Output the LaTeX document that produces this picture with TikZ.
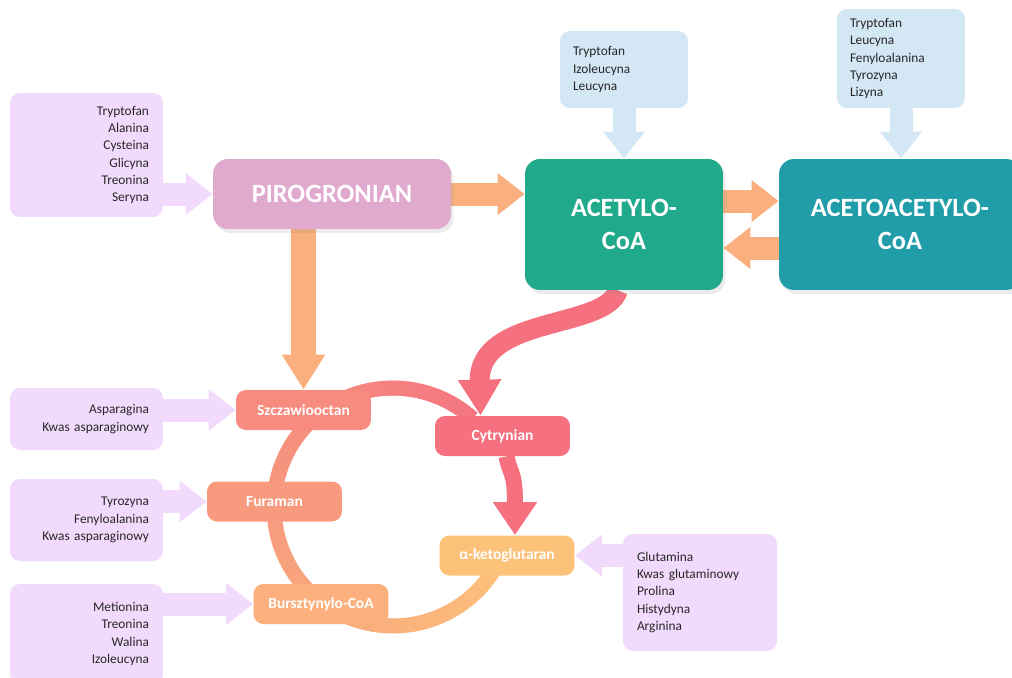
\documentclass[tikz,border=0pt]{standalone}
\usepackage{fontspec}
\setmainfont{Carlito}
\usetikzlibrary{positioning, calc, arrows.meta, shadows}

\definecolor{lilac}{HTML}{F2DAFC}
\definecolor{skyblue}{HTML}{D4E7F5}
\definecolor{pirocol}{HTML}{E0A9CE}
\definecolor{acetylcol}{HTML}{21A98B}
\definecolor{acetoaccol}{HTML}{209DA8}
\definecolor{peach}{HTML}{F9B07E}
\definecolor{szczcol}{HTML}{F78B7F}
\definecolor{furacol}{HTML}{F79A7E}
\definecolor{burszcol}{HTML}{FBB07D}
\definecolor{cytrcol}{HTML}{F67180}
\definecolor{ketocol}{HTML}{FCC27A}
\definecolor{listtext}{HTML}{262626}
\definecolor{ringa}{HTML}{F47580}
\definecolor{ringb}{HTML}{F79A7E}
\definecolor{ringc}{HTML}{FCC07A}

\pgfdeclarelayer{bg}
\pgfsetlayers{bg,main}

\begin{document}
\begin{tikzpicture}[x=0.02cm, y=-0.02cm,
  bigbox/.style={rounded corners=0.3cm, text=white, align=center, inner sep=0pt,
    font=\fontsize{15}{19}\selectfont\bfseries,
    drop shadow={shadow xshift=0.05cm, shadow yshift=-0.08cm, opacity=0.15}},
  cycbox/.style={rounded corners=0.2cm, text=white, inner sep=0pt,
    font=\fontsize{8.8}{10}\selectfont\bfseries, minimum width=2.7cm, minimum height=0.8cm},
  listbox/.style={fill=lilac, rounded corners=0.2cm, text=listtext, inner xsep=0.28cm, inner ysep=0pt,
    font=\fontsize{7.6}{9.8}\selectfont, text width=2.5cm, align=right},
  bluebox/.style={fill=skyblue, rounded corners=0.2cm, text=listtext, inner xsep=0.26cm, inner ysep=0pt,
    font=\fontsize{7.6}{9.8}\selectfont, text width=2.04cm, align=left},
  fatarrow/.style={line width=0.46cm, -{Triangle[length=0.54cm, width=0.8cm]}},
  ringseg/.style={line width=0.3cm}]
  \useasboundingbox (0,0) rectangle (1012,677);

  \node[bigbox, fill=pirocol, minimum width=4.76cm, minimum height=1.4cm] at (332,194) (piro) {PIROGRONIAN};
  \node[bigbox, fill=acetylcol, minimum width=3.96cm, minimum height=2.62cm] at (624,224.5) (acetyl) {ACETYLO-\\CoA};
  \node[bigbox, fill=acetoaccol, minimum width=4.84cm, minimum height=2.62cm] at (900,224.5) (acetoac) {ACETOACETYLO-\\CoA};

  \node[bluebox, minimum height=1.54cm] at (624,69.5) (acetylsrc) {Tryptofan\\Izoleucyna\\Leucyna};
  \node[bluebox, minimum height=1.98cm] at (901,58.5) (acetoacsrc) {Tryptofan\\Leucyna\\Fenyloalanina\\Tyrozyna\\Lizyna};

  \node[listbox, minimum height=2.48cm] at (86.5,155) (pirosrc) {Tryptofan\\Alanina\\Cysteina\\Glicyna\\Treonina\\Seryna};
  \node[listbox, minimum height=1.24cm] at (86.5,419) (szczsrc) {Asparagina\\Kwas asparaginowy};
  \node[listbox, minimum height=1.64cm] at (86.5,520) (furasrc) {Tyrozyna\\Fenyloalanina\\Kwas asparaginowy};
  \node[listbox, minimum height=2cm] at (86.5,634) (burszsrc) {Metionina\\Treonina\\Walina\\Izoleucyna};
  \node[listbox, align=left, text width=2.52cm, minimum height=2.34cm] at (700,592.5) (ketosrc) {Glutamina\\Kwas glutaminowy\\Prolina\\Histydyna\\Arginina};

  \node[cycbox, fill=szczcol] at (303.5,410) (szcz) {Szczawiooctan};
  \node[cycbox, fill=furacol] at (274.5,501.5) (fura) {Furaman};
  \node[cycbox, fill=burszcol] at (321,604) (bursz) {Bursztynylo-CoA};
  \node[cycbox, fill=cytrcol] at (502.5,436) (cytr) {Cytrynian};
  \node[cycbox, fill=ketocol] at (507,555.5) (keto) {α-ketoglutaran};
  \coordinate (ringc) at (393,507);

  \begin{pgfonlayer}{bg}
    \foreach \a in {48,50,...,178} {
      \pgfmathtruncatemacro\t{(180-\a)/132*100}
      \draw[ringseg, draw=ringa!\t!ringb] ([shift={(\a:2.38cm)}]ringc) arc[start angle=\a, end angle=\a+3, radius=2.38cm];
    }
    \foreach \a in {180,182,...,328} {
      \pgfmathtruncatemacro\t{(330-\a)/150*100}
      \draw[ringseg, draw=ringb!\t!ringc] ([shift={(\a:2.38cm)}]ringc) arc[start angle=\a, end angle=\a+2.5, radius=2.38cm];
    }

    \draw[fatarrow, peach] (piro.east) -- (piro.east -| acetyl.west);
    \draw[fatarrow, peach] ($(acetyl.east)+(0,-23.5)$) -- ($(acetoac.west)+(0,-23.5)$);
    \draw[fatarrow, peach] ($(acetoac.west)+(0,23.5)$) -- ($(acetyl.east)+(0,23.5)$);
    \draw[fatarrow, peach, line width=0.5cm, -{Triangle[length=0.7cm, width=0.82cm]}] (szcz.north |- piro.south) -- (szcz.north);

    \draw[fatarrow, skyblue] (acetylsrc.south) -- (acetyl.north);
    \draw[fatarrow, skyblue] (acetoacsrc.south) -- (acetoacsrc.south |- acetoac.north);

    \draw[fatarrow, lilac] (pirosrc.east |- piro.west) -- (piro.west);
    \draw[fatarrow, lilac] (szczsrc.east |- szcz.west) -- (szcz.west);
    \draw[fatarrow, lilac] (furasrc.east |- fura.west) -- (fura.west);
    \draw[fatarrow, lilac] (burszsrc.east |- bursz.west) -- (bursz.west);
    \draw[fatarrow, lilac] (ketosrc.west |- keto.east) -- (keto.east);

    \draw[line width=0.4cm, cytrcol, -{Triangle[length=0.72cm, width=0.82cm]}] ($(acetyl.south)+(-6,0)$) .. controls (605,330) and (478,315) .. ($(cytr.north)+(-22,0)$);
    \draw[line width=0.32cm, cytrcol, -{Triangle[length=0.66cm, width=0.84cm]}] ($(cytr.south)+(4,0)$) .. controls (510,475) and (515,470) .. ($(keto.north)+(8,0)$);
  \end{pgfonlayer}

\end{tikzpicture}
\end{document}
